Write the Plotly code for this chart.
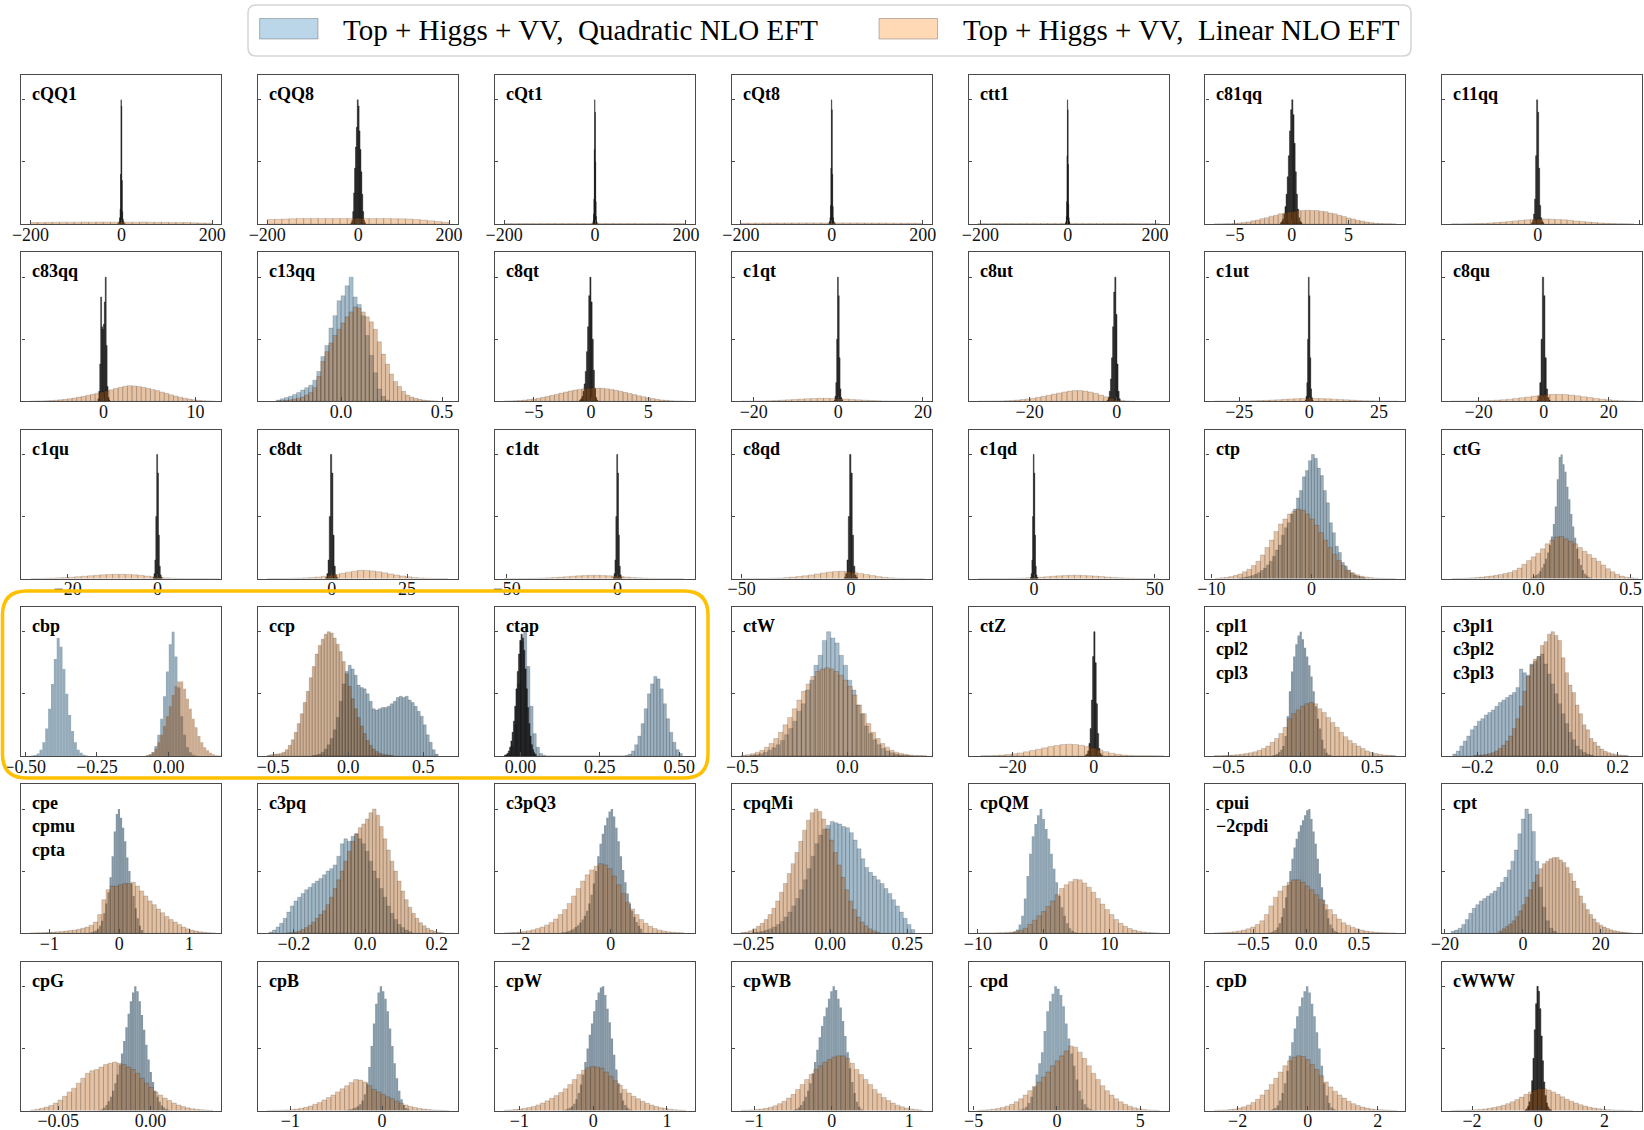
import plotly.graph_objects as go

# ---------------------------------------------------------------------------
# Data: every histogram is (first bin edge, bin width, bin heights)
# "quad" = Top + Higgs + VV, Quadratic NLO EFT ; "lin" = Linear NLO EFT
# ---------------------------------------------------------------------------
# row 1
cQQ1_quad = (-6, 1, [1, 2, 5, 12, 40, 100, 95, 35, 10, 4, 2, 1])
cQQ1_lin = (-200, 16, [1.2, 1.3, 1.4, 1.4, 1.5, 1.5, 1.5, 1.6, 1.5, 1.6, 1.6, 1.5, 1.6, 1.5, 1.5, 1.6, 1.5, 1.4, 1.4, 1.3, 1.3, 1.2, 1.0, 0.9, 0.7])
cQQ8_quad = (-16, 2, [1, 3, 10, 25, 45, 62, 78, 100, 95, 75, 60, 42, 24, 10, 3, 1])
cQQ8_lin = (-200, 16, [3.6, 3.8, 4.0, 4.3, 4.5, 4.4, 4.5, 4.5, 4.4, 4.4, 4.5, 4.5, 4.6, 4.5, 4.4, 4.5, 4.4, 4.3, 4.2, 4.0, 3.6, 3.2, 2.6, 2.0, 1.4])
cQt1_quad = (-4.8, 0.8, [1, 3, 8, 20, 60, 100, 90, 50, 18, 6, 2, 1])
cQt1_lin = (-200, 16, [0.3, 0.3, 0.4, 0.4, 0.4, 0.5, 0.5, 0.5, 0.5, 0.5, 0.5, 0.5, 0.6, 0.5, 0.5, 0.5, 0.5, 0.5, 0.4, 0.4, 0.4, 0.4, 0.3, 0.3, 0.3])
cQt8_quad = (-6, 1, [1, 2, 5, 15, 45, 100, 92, 40, 14, 5, 2, 1])
cQt8_lin = (-200, 16, [0.6, 0.7, 0.7, 0.8, 0.8, 0.8, 0.9, 0.9, 0.9, 0.9, 0.9, 0.9, 1.0, 0.9, 0.9, 0.9, 0.9, 0.8, 0.8, 0.8, 0.7, 0.7, 0.6, 0.6, 0.5])
ctt1_quad = (-4.8, 0.8, [1, 2, 6, 18, 55, 100, 92, 48, 16, 5, 2, 1])
ctt1_lin = (-206, 16, [0.3, 0.3, 0.4, 0.4, 0.4, 0.4, 0.5, 0.5, 0.5, 0.5, 0.5, 0.5, 0.5, 0.5, 0.5, 0.5, 0.5, 0.5, 0.4, 0.4, 0.4, 0.4, 0.4, 0.3, 0.3, 0.3])
c81qq_quad = (-1.0, 0.1, [1, 2, 4, 8, 14, 24, 38, 55, 75, 92, 100, 88, 65, 42, 24, 12, 5, 2, 1])
c81qq_lin = (-6.8, 0.4, [0.1, 0.1, 0.2, 0.3, 0.5, 0.8, 1.3, 1.7, 2.6, 3.2, 4.3, 5.1, 6.3, 7.1, 8.2, 8.8, 9.7, 10.1, 10.7, 10.8, 11.1, 10.9, 10.9, 10.3, 9.9, 8.9, 8.2, 7.0, 6.1, 4.9, 4.1, 3.0, 2.4, 1.6, 1.1, 0.7, 0.4, 0.3, 0.2, 0.1])
c11qq_quad = (-1.2, 0.2, [1, 3, 8, 20, 55, 100, 90, 45, 15, 5, 2, 1])
c11qq_lin = (-17, 1.2, [0.1, 0.1, 0.2, 0.3, 0.4, 0.6, 0.9, 1.2, 1.6, 2.0, 2.5, 3.0, 3.4, 3.7, 3.9, 4.0, 3.9, 3.7, 3.4, 3.0, 2.5, 2.1, 1.6, 1.2, 0.9, 0.6, 0.4, 0.3, 0.2, 0.1])
# row 2
c83qq_quad = (-0.6, 0.1, [2, 8, 30, 84, 60, 58, 62, 80, 100, 45, 12, 3, 1])
c83qq_lin = (-7.9, 0.5, [0.1, 0.2, 0.3, 0.4, 0.6, 0.9, 1.2, 1.6, 2.1, 2.7, 3.4, 4.1, 4.9, 5.7, 6.5, 7.4, 8.3, 9.3, 10.3, 11.3, 12.2, 12.6, 12.4, 12.0, 11.3, 10.5, 9.6, 8.6, 7.5, 6.4, 5.3, 4.3, 3.3, 2.5, 1.8, 1.2, 0.8, 0.5, 0.3, 0.1])
c13qq_quad = (-0.32, 0.02, [1, 2, 3, 4, 5.5, 7, 9, 11, 13, 17, 24, 36, 45, 59, 69, 81, 85, 93, 100, 84, 78, 69, 53, 37, 23, 10, 4, 1])
c13qq_lin = (-0.32, 0.02, [0.3, 0.5, 0.8, 1.2, 1.8, 2.5, 3.5, 5, 7, 11, 20, 32, 40, 47, 53, 58, 63, 68, 72, 76, 75, 72, 68, 64, 58, 48, 38, 30, 22, 16, 12, 8, 5, 3.5, 2.5, 1.6, 1, 0.6, 0.4, 0.2])
c8qt_quad = (-1.0, 0.1, [1, 2, 4, 8, 14, 24, 40, 60, 85, 100, 80, 50, 25, 10, 3, 1])
c8qt_lin = (-7.6, 0.4, [0.2, 0.3, 0.5, 0.7, 1.0, 1.4, 1.9, 2.5, 3.2, 4.0, 4.8, 5.7, 6.6, 7.5, 8.3, 9.0, 9.6, 10.1, 10.5, 10.7, 10.7, 10.5, 10.1, 9.6, 8.9, 8.1, 7.2, 6.3, 5.4, 4.5, 3.7, 2.9, 2.2, 1.6, 1.1, 0.8, 0.5, 0.3, 0.2, 0.1])
c1qt_quad = (-1.0, 0.2, [1, 4, 15, 50, 100, 85, 35, 10, 3, 1])
c1qt_lin = (-23, 1.5, [0.1, 0.1, 0.2, 0.3, 0.4, 0.6, 0.9, 1.2, 1.5, 1.8, 2.1, 2.3, 2.4, 2.4, 2.3, 2.1, 1.8, 1.5, 1.2, 0.9, 0.7, 0.5, 0.3, 0.2, 0.15, 0.1, 0.1, 0.05])
c8ut_quad = (-2.2, 0.25, [1, 3, 8, 18, 35, 60, 88, 100, 70, 30, 8, 2])
c8ut_lin = (-31.8, 1.2, [0.05, 0.1, 0.15, 0.2, 0.3, 0.5, 0.7, 1.0, 1.4, 1.9, 2.5, 3.2, 4.0, 4.9, 5.8, 6.7, 7.5, 8.2, 8.6, 8.6, 8.2, 7.5, 6.4, 5.0, 3.6, 2.3, 1.3, 0.6, 0.3, 0.1])
c1ut_quad = (-1.4, 0.28, [1, 4, 15, 50, 100, 85, 35, 10, 3, 1])
c1ut_lin = (-34, 2.2, [0.05, 0.08, 0.1, 0.15, 0.2, 0.3, 0.45, 0.6, 0.8, 1.05, 1.3, 1.6, 1.9, 2.15, 2.3, 2.4, 2.35, 2.2, 2.0, 1.75, 1.5, 1.2, 0.95, 0.7, 0.5, 0.35, 0.25, 0.15, 0.1, 0.05])
c8qu_quad = (-2.0, 0.4, [1, 4, 15, 50, 100, 85, 35, 10, 3, 1])
c8qu_lin = (-28.5, 1.9, [0.05, 0.08, 0.12, 0.2, 0.3, 0.45, 0.65, 0.95, 1.3, 1.75, 2.3, 2.9, 3.5, 4.2, 4.8, 5.3, 5.6, 5.6, 5.4, 5.0, 4.4, 3.7, 3.0, 2.3, 1.7, 1.2, 0.8, 0.5, 0.3, 0.15])
# row 3
c1qu_quad = (-1.0, 0.2, [1, 4, 15, 50, 100, 85, 35, 10, 3, 1])
c1qu_lin = (-28.2, 1.4, [0.1, 0.15, 0.25, 0.4, 0.6, 0.85, 1.15, 1.5, 1.9, 2.3, 2.7, 3.05, 3.3, 3.5, 3.5, 3.4, 3.1, 2.7, 2.1, 1.5, 1.0, 0.6, 0.35, 0.2, 0.12, 0.08, 0.05, 0.03, 0.02, 0.01])
c8dt_quad = (-2.0, 0.4, [1, 4, 15, 50, 100, 85, 35, 10, 3, 1])
c8dt_lin = (-21.4, 2.0, [0.03, 0.05, 0.1, 0.15, 0.25, 0.4, 0.6, 0.9, 1.3, 1.9, 2.6, 3.4, 4.3, 5.2, 6.0, 6.7, 6.6, 6.2, 5.5, 4.7, 3.8, 2.9, 2.1, 1.4, 0.9, 0.55, 0.3, 0.15, 0.08, 0.04])
c1dt_quad = (-2.0, 0.4, [1, 4, 15, 50, 100, 85, 35, 10, 3, 1])
c1dt_lin = (-51.2, 2.7, [0.03, 0.05, 0.08, 0.12, 0.2, 0.3, 0.45, 0.65, 0.9, 1.2, 1.55, 1.9, 2.25, 2.5, 2.7, 2.7, 2.55, 2.3, 2.0, 1.65, 1.3, 0.95, 0.65, 0.4, 0.25, 0.15, 0.08, 0.05, 0.03, 0.02])
c8qd_quad = (-3.0, 0.6, [1, 4, 15, 50, 100, 85, 35, 10, 3, 1])
c8qd_lin = (-50.3, 2.8, [0.02, 0.04, 0.07, 0.1, 0.18, 0.3, 0.5, 0.8, 1.2, 1.7, 2.3, 3.0, 3.8, 4.6, 5.3, 5.8, 5.9, 5.6, 5.0, 4.2, 3.3, 2.4, 1.6, 1.0, 0.6, 0.35, 0.2, 0.1, 0.05, 0.03])
c1qd_quad = (-1.5, 0.3, [1, 4, 15, 50, 100, 85, 35, 10, 3, 1])
c1qd_lin = (-23.3, 2.5, [0.02, 0.03, 0.05, 0.08, 0.12, 0.2, 0.3, 0.45, 0.65, 0.9, 1.2, 1.55, 1.9, 2.25, 2.5, 2.7, 2.7, 2.55, 2.3, 2.0, 1.65, 1.3, 0.95, 0.65, 0.4, 0.25, 0.15, 0.08, 0.05, 0.03])
ctp_quad = (-7.2, 0.3, [0.5, 0.8, 1.2, 1.8, 2.5, 3.5, 4.8, 6.5, 8.5, 11, 14, 18, 23, 27, 35, 41, 45, 52, 56, 65, 71, 82, 87, 95, 100, 97, 89, 83, 71, 61, 45, 37, 26, 21, 13, 10, 6.5, 4.5, 3, 2, 1.2, 0.7])
ctp_lin = (-9.6, 0.45, [0.3, 0.6, 1.0, 1.6, 2.5, 3.8, 5.5, 7.5, 10.5, 14, 19, 25, 31, 38, 44, 48, 52, 54, 56, 55, 52, 48, 43, 37, 31, 25, 19.5, 14.5, 10.5, 7, 4.8, 3.2, 2, 1.3, 0.8, 0.5, 0.3, 0.2, 0.1, 0.05])
ctG_quad = (-0.02, 0.01, [0.5, 1, 1.8, 2.8, 4, 6, 9, 12, 16, 21, 27, 34, 44, 58, 80, 98, 100, 92, 86, 74, 64, 52, 42, 33, 24, 16, 11, 7, 4, 2.5, 1.3, 0.6])
ctG_lin = (-0.42, 0.024, [0.1, 0.2, 0.3, 0.4, 0.6, 0.9, 1.2, 1.6, 2.1, 2.7, 3.4, 4.2, 5, 6.5, 8.5, 11.5, 14.5, 17.5, 20.5, 24, 28, 31, 33.5, 34, 32, 30, 28, 25, 22, 19.5, 16.5, 14, 11, 8, 5.5, 3.5, 2, 1.1, 0.6, 0.3])
# row 4
cbp_quad = (-0.48, 0.01, [0.3, 0.8, 2, 5, 11, 22, 38, 58, 78, 95, 88, 70, 50, 33, 20, 11, 5, 2.5, 1, 0.4,
                          0, 0, 0, 0, 0, 0, 0, 0, 0, 0, 0, 0, 0, 0, 0, 0, 0, 0, 0, 0,
                          0.3, 1, 3, 8, 17, 30, 48, 68, 90, 100, 80, 55, 32, 17, 7, 3, 1, 0.3])
cbp_lin = (-0.08, 0.01, [0.5, 1.5, 3, 6, 11, 17, 24, 32, 40, 49, 56, 60, 60, 54, 46, 38, 30, 23, 16, 11, 7, 4.5, 2.5, 1.3, 0.6, 0.3])
ccp_quad = (-0.24, 0.02, [0.3, 0.8, 1.5, 3, 5.5, 9, 14, 21, 31, 44, 58, 68, 73, 70, 65, 57, 55, 54, 50, 44, 38, 37, 38, 39, 39, 40, 42, 44, 47, 48, 47, 48, 45, 43, 40, 36, 32, 25, 17, 11, 5, 1.5])
ccp_lin = (-0.54, 0.02, [0.5, 1, 1.3, 1.6, 2, 3, 5, 8.5, 13, 19, 26, 34, 43, 52, 63, 72, 82, 89, 94, 98, 100, 99, 95, 90, 84, 76, 66, 56, 46, 38, 31, 24, 18, 12.5, 8.5, 5.5, 3.5, 2.2, 1.4, 0.9, 0.6, 0.3])
ctap_quad = (-0.05, 0.01, [0.5, 2, 8, 25, 58, 92, 100, 72, 40, 18, 7, 2, 0.5,
                           0, 0, 0, 0, 0, 0, 0, 0, 0, 0, 0, 0, 0, 0, 0, 0, 0, 0, 0, 0, 0, 0, 0, 0, 0,
                           0.5, 1.5, 4, 9, 16, 26, 38, 50, 58, 64, 62, 54, 42, 30, 19, 11, 5, 2])
ctap_lin = (-0.05, 0.004, [0.5, 1, 2, 4, 7, 12, 19, 28, 40, 54, 68, 82, 93, 98, 95, 85, 70, 54, 39, 26, 16, 9, 5, 2.5, 1])
ctW_quad = (-0.46, 0.02, [0.5, 1, 1.8, 3, 4.5, 6.5, 9, 12.5, 17, 22, 28, 36, 42, 53, 61, 73, 81, 93, 100, 95, 91, 81, 73, 61, 53, 41, 34, 24, 18, 13, 9, 6, 4, 2.5, 1.5, 0.8, 0.4, 0.2])
ctW_lin = (-0.505, 0.022, [0.5, 1, 1.8, 3, 4.5, 7, 10, 14, 19, 25, 31, 38, 45, 52, 58, 64, 68, 70, 71, 70, 68, 65, 61, 56, 49, 41, 34, 26, 19, 14, 10, 7, 4.5, 3, 2, 1.3, 0.8, 0.5, 0.3, 0.2])
ctZ_quad = (-2.1, 0.3, [0.5, 1.5, 4, 10, 22, 45, 80, 100, 75, 42, 18, 6, 2, 0.5])
ctZ_lin = (-27.8, 1.5, [0.1, 0.2, 0.4, 0.7, 1.1, 1.7, 2.4, 3.3, 4.3, 5.4, 6.5, 7.5, 8.4, 9.1, 9.4, 9.2, 8.6, 7.5, 6.2, 4.8, 3.4, 2.2, 1.3, 0.7, 0.4, 0.2, 0.1, 0.05, 0.03, 0.02])
cpl_quad = (-0.2, 0.015, [0.3, 0.8, 1.5, 3, 5, 8, 16, 32, 52, 68, 80, 90, 97, 100, 94, 87, 80, 73, 64, 52, 40, 30, 22, 13, 6, 2.5, 1, 0.3])
cpl_lin = (-0.6, 0.03, [0.1, 0.2, 0.3, 0.5, 0.7, 1, 1.4, 1.9, 2.5, 3.3, 4.5, 6, 8, 11, 14, 18, 23, 30, 34, 37, 40, 42, 43, 42, 38, 35, 31, 27, 23, 19, 15.5, 12.5, 10, 8, 6, 4, 2.8, 1.9, 1.2, 0.8, 0.5, 0.3])
c3pl_quad = (-0.27, 0.01, [1.5, 4, 8, 12, 16, 21, 24, 28, 30, 33, 35, 37, 40, 43, 45, 47, 49, 51, 55, 70, 67, 65, 74, 76, 80, 82, 74, 66, 58, 50, 42, 34, 26, 19, 13, 8, 5, 3, 1.5, 0.7])
c3pl_lin = (-0.21, 0.01, [0.3, 0.5, 0.8, 1.2, 1.8, 2.6, 4, 6, 8.5, 12, 16, 22, 30, 40, 52, 64, 73, 78, 80, 89, 92, 98, 100, 97, 93, 79, 67, 57, 51, 41, 34, 25, 21, 14, 11, 8, 5.5, 3.8, 2.6, 1.8, 1.2, 0.8, 0.5, 0.3])
# row 5
cpe_quad = (-0.44, 0.03, [0.3, 0.7, 1.3, 2.2, 3.5, 6, 10, 16, 24, 33, 45, 62, 82, 96, 100, 93, 85, 74, 61, 50, 40, 30, 20, 12, 6, 2.5])
cpe_lin = (-1.27, 0.06, [0.2, 0.3, 0.4, 0.5, 0.7, 0.9, 1.1, 1.4, 1.7, 2.1, 2.6, 3.2, 4, 5, 6.5, 9, 15, 27, 35, 38, 38, 39, 40, 40, 41, 38, 34, 30, 26, 23, 19.5, 16.5, 13.5, 11, 9, 7, 5, 3.5, 2.5, 1.7, 1.1, 0.7, 0.4, 0.2])
c3pq_quad = (-0.27, 0.01, [1, 2.5, 5, 8, 12, 17, 22, 26, 29, 32, 35, 37, 40, 42, 44, 47, 50, 52, 55, 62, 72, 76, 74, 78, 80, 76, 72, 66, 58, 50, 44, 36, 29, 22, 16, 11, 7, 4.5, 2.5, 1.2])
c3pq_lin = (-0.22, 0.01, [0.3, 0.6, 1, 1.8, 3, 4.5, 6.5, 9, 12, 15, 18, 23, 29, 36, 43, 50, 58, 66, 74, 80, 85, 88, 92, 97, 100, 95, 86, 76, 67, 58, 50, 42, 34, 27, 21, 16, 12, 8.5, 6, 4, 2.5, 1.5, 0.8, 0.4])
c3pQ3_quad = (-1.1, 0.05, [0.5, 0.8, 1.2, 1.8, 2.5, 3.5, 5, 6.5, 8.5, 11, 14, 18, 24, 31, 40, 50, 62, 72, 80, 87, 93, 98, 100, 94, 85, 74, 62, 51, 41, 32, 24, 18, 13, 9, 6, 3.5])
c3pQ3_lin = (-2.37, 0.1, [0.2, 0.4, 0.6, 0.9, 1.3, 1.9, 2.7, 3.7, 5, 6.7, 8.7, 11.5, 15, 19, 24, 30, 36, 42, 47, 51, 54, 56, 55, 52, 46, 39, 32, 25, 19.5, 15, 11, 8, 5.5, 3.8, 2.6, 1.8, 1.2, 0.8, 0.5, 0.3])
cpqMi_quad = (-0.25, 0.0125, [0.5, 1, 1.5, 2.5, 3.5, 5, 7, 9.5, 13, 17, 22, 28, 35, 43, 52, 62, 72, 79, 84, 87, 90, 89, 88, 86, 85, 81, 75, 68, 60, 53, 49, 46, 43, 40, 36, 32, 27, 22, 17, 12, 7, 3])
cpqMi_lin = (-0.29, 0.0125, [0.5, 1, 2, 3.5, 5.5, 8, 11, 15, 20, 26, 33, 40, 48, 56, 65, 74, 83, 91, 97, 100, 98, 92, 84, 75, 65, 55, 45, 35, 26, 19, 13, 9, 6, 3.5, 2, 1])
cpQM_quad = (-5, 0.4, [0.5, 1.2, 3, 7, 14, 28, 46, 64, 78, 88, 95, 100, 92, 84, 76, 64, 52, 41, 30, 21, 14, 8, 4, 2, 0.8])
cpQM_lin = (-10, 0.69, [0.05, 0.1, 0.15, 0.2, 0.3, 0.45, 0.7, 1, 1.5, 2.3, 4, 7, 10.5, 14, 17.5, 21.5, 26, 31, 36, 39, 41.5, 43.5, 43, 40.5, 37, 33, 28, 23.5, 19, 15, 11, 8, 5.5, 3.8, 2.5, 1.6, 1, 0.6, 0.3, 0.15])
cpui_quad = (-0.36, 0.02, [0.3, 0.7, 1.3, 2.5, 4.5, 8, 13, 20, 29, 39, 50, 60, 69, 76, 82, 87, 91, 95, 99, 100, 92, 82, 72, 60, 48, 37, 27, 19, 12, 7, 4, 2, 1, 0.4])
cpui_lin = (-0.87, 0.043, [0.2, 0.3, 0.5, 0.8, 1.2, 1.8, 2.6, 3.6, 5, 7, 10, 15, 22, 29, 34, 38, 41, 43, 43, 41, 38, 35, 31, 27, 23, 19, 15, 11.5, 8.5, 6.5, 4.8, 3.5, 2.5, 1.8, 1.2, 0.8, 0.5, 0.3, 0.2, 0.1])
cpt_quad = (-18.4, 0.9, [1.5, 2.5, 4, 7, 11, 16, 20, 23, 26, 28, 30, 32, 34, 37, 41, 45, 51, 58, 67, 80, 92, 100, 96, 82, 58, 37, 21, 10, 4, 1.5])
cpt_lin = (-6.2, 0.86, [1.5, 3.5, 5.5, 7.5, 10, 13.5, 18, 23, 29, 35, 41, 47, 52, 56, 58, 60, 61, 61, 59, 57, 53, 48, 42, 36, 30, 24, 19, 15, 11.5, 8.5, 6.5, 5, 3.8, 2.8, 2, 1.5, 1, 0.7, 0.4, 0.2])
# row 6
cpG_quad = (-0.028, 0.0012, [0.5, 1, 2.5, 4.5, 7.5, 11, 16, 22, 29, 37, 46, 56, 67, 78, 88, 95, 100, 96, 88, 77, 65, 53, 41, 31, 23, 16, 11, 7, 4, 2.5, 1.3, 0.6])
cpG_lin = (-0.065, 0.00247, [0.5, 1, 1.8, 2.8, 4, 6, 8.5, 11.5, 15, 18, 22, 26, 30, 32, 33, 35, 37, 38, 39, 38, 37, 35, 33, 30, 26, 22, 18.5, 15, 12.5, 10, 8, 6, 4.5, 3.2, 2.2, 1.5, 1, 0.6, 0.4, 0.2])
cpB_quad = (-0.4, 0.025, [0.3, 0.6, 1, 1.6, 2.5, 3.5, 5, 8, 13, 22, 35, 52, 70, 86, 95, 100, 96, 90, 80, 66, 52, 38, 26, 16, 9, 4.5, 2, 0.8])
cpB_lin = (-1.25, 0.0495, [0.1, 0.15, 0.2, 0.3, 0.5, 0.8, 1.2, 1.8, 2.6, 3.6, 5, 6.5, 8.5, 10.5, 12.5, 15, 17.5, 20, 22.5, 25, 24.5, 23, 20, 17, 15, 13, 11, 9.5, 7.5, 6, 4.5, 3.3, 2.4, 1.7, 1.2, 0.8, 0.5, 0.3, 0.2, 0.1])
cpW_quad = (-0.42, 0.03, [0.3, 0.7, 1.3, 2.2, 3.5, 5.5, 9, 14, 21, 29, 39, 50, 61, 70, 80, 89, 95, 99, 100, 93, 82, 71, 58, 45, 33, 22, 14, 8, 4.5, 2.2, 1, 0.4])
cpW_lin = (-1.207, 0.0616, [0.3, 0.5, 0.8, 1.2, 1.7, 2.4, 3.3, 4.5, 6, 7.8, 9.8, 12, 14.5, 17.5, 21, 25, 29, 32.5, 34.5, 35.5, 35, 34, 31, 27.5, 24, 20.5, 17, 14, 11.5, 9.5, 7.5, 5.8, 4.4, 3.2, 2.3, 1.6, 1.1, 0.7, 0.4, 0.2])
cpWB_quad = (-0.5, 0.03, [0.5, 1.2, 2.5, 4.5, 7.5, 11, 16, 22, 30, 39, 49, 59, 68, 76, 83, 90, 96, 100, 97, 90, 83, 72, 60, 47, 34, 23, 14, 7, 3, 1])
cpWB_lin = (-1.17, 0.0585, [0.2, 0.3, 0.5, 0.8, 1.2, 1.8, 2.6, 3.8, 5.5, 7.5, 10, 13, 17, 21, 25, 29, 33, 36, 39, 41, 43, 44, 44, 42, 38, 33, 29, 25, 21, 17, 13.5, 10.5, 8, 6, 4.3, 3, 2, 1.3, 0.8, 0.4])
cpd_quad = (-2.4, 0.16, [0.3, 0.7, 1.5, 3, 6, 11, 19, 29, 38, 47, 64, 80, 88, 94, 100, 98, 93, 84, 70, 58, 46, 36, 25, 16, 9, 5, 2.5, 1.2, 0.5, 0.2])
cpd_lin = (-4.75, 0.2725, [0.2, 0.4, 0.7, 1.1, 1.7, 2.5, 3.5, 5, 7, 9.5, 12.5, 16, 19.5, 23, 27, 31, 36, 40, 44, 48, 52, 51, 47, 42, 36, 30, 25, 20, 16, 12.5, 9.5, 7, 5, 3.5, 2.3, 1.5, 0.9, 0.5, 0.3, 0.15])
cpD_quad = (-1.1, 0.07, [0.5, 1, 2, 4, 8, 14, 22, 32, 44, 55, 66, 76, 84, 91, 96, 100, 95, 86, 76, 63, 50, 36, 22, 12, 6, 2.5, 1, 0.4])
cpD_lin = (-2.66, 0.13, [0.2, 0.3, 0.5, 0.8, 1.3, 2, 3, 4.5, 6.5, 9, 12.5, 16.5, 21, 26, 31, 36, 40, 43, 44, 43.5, 41, 37, 33, 28, 23, 19, 15.5, 12.5, 10, 7.5, 5.5, 4, 2.8, 2, 1.3, 0.9, 0.6, 0.4, 0.2, 0.1])
cWWW_quad = (-0.4, 0.04, [0.5, 1.5, 3.5, 7, 13, 24, 42, 65, 86, 100, 96, 82, 60, 40, 23, 12, 6, 3, 1.2, 0.5])
cWWW_lin = (-2.625, 0.137, [0.1, 0.15, 0.2, 0.3, 0.4, 0.6, 0.9, 1.3, 1.8, 2.4, 3.2, 4.2, 5.5, 7, 8.8, 10.8, 13, 15, 16.5, 17.5, 17.5, 16.5, 15, 13, 11, 9, 7.5, 6, 4.7, 3.6, 2.7, 2, 1.4, 1, 0.7, 0.5, 0.3, 0.2, 0.1, 0.05])

LABELS = [
    ["cQQ1"], ["cQQ8"], ["cQt1"], ["cQt8"], ["ctt1"], ["c81qq"], ["c11qq"],
    ["c83qq"], ["c13qq"], ["c8qt"], ["c1qt"], ["c8ut"], ["c1ut"], ["c8qu"],
    ["c1qu"], ["c8dt"], ["c1dt"], ["c8qd"], ["c1qd"], ["ctp"], ["ctG"],
    ["cbp"], ["ccp"], ["ctap"], ["ctW"], ["ctZ"], ["cpl1", "cpl2", "cpl3"], ["c3pl1", "c3pl2", "c3pl3"],
    ["cpe", "cpmu", "cpta"], ["c3pq"], ["c3pQ3"], ["cpqMi"], ["cpQM"], ["cpui", "\u22122cpdi"], ["cpt"],
    ["cpG"], ["cpB"], ["cpW"], ["cpWB"], ["cpd"], ["cpD"], ["cWWW"],
]
QUADRATIC = [
    cQQ1_quad, cQQ8_quad, cQt1_quad, cQt8_quad, ctt1_quad, c81qq_quad, c11qq_quad,
    c83qq_quad, c13qq_quad, c8qt_quad, c1qt_quad, c8ut_quad, c1ut_quad, c8qu_quad,
    c1qu_quad, c8dt_quad, c1dt_quad, c8qd_quad, c1qd_quad, ctp_quad, ctG_quad,
    cbp_quad, ccp_quad, ctap_quad, ctW_quad, ctZ_quad, cpl_quad, c3pl_quad,
    cpe_quad, c3pq_quad, c3pQ3_quad, cpqMi_quad, cpQM_quad, cpui_quad, cpt_quad,
    cpG_quad, cpB_quad, cpW_quad, cpWB_quad, cpd_quad, cpD_quad, cWWW_quad,
]
LINEAR = [
    cQQ1_lin, cQQ8_lin, cQt1_lin, cQt8_lin, ctt1_lin, c81qq_lin, c11qq_lin,
    c83qq_lin, c13qq_lin, c8qt_lin, c1qt_lin, c8ut_lin, c1ut_lin, c8qu_lin,
    c1qu_lin, c8dt_lin, c1dt_lin, c8qd_lin, c1qd_lin, ctp_lin, ctG_lin,
    cbp_lin, ccp_lin, ctap_lin, ctW_lin, ctZ_lin, cpl_lin, c3pl_lin,
    cpe_lin, c3pq_lin, c3pQ3_lin, cpqMi_lin, cpQM_lin, cpui_lin, cpt_lin,
    cpG_lin, cpB_lin, cpW_lin, cpWB_lin, cpd_lin, cpD_lin, cWWW_lin,
]
X_LIMITS = [
    (-220, 220), (-220, 220), (-220, 220), (-220, 220), (-227, 231), (-7.6, 10.0), (-18.8, 20.6),
    (-8.9, 12.8), (-0.41, 0.58), (-8.4, 9.1), (-25.2, 22.1), (-34, 11.9), (-37.1, 34.4), (-31.2, 30.3),
    (-30.3, 14.2), (-24.4, 42), (-55.3, 34.9), (-54.5, 37), (-27.1, 55.7), (-10.6, 9.4), (-0.47, 0.56),
    (-0.513, 0.183), (-0.6, 0.733), (-0.08, 0.55), (-0.55, 0.4), (-30.8, 18.4), (-0.66, 0.73), (-0.3, 0.27),
    (-1.4, 1.46), (-0.3, 0.26), (-2.57, 1.87), (-0.32, 0.33), (-11.4, 19), (-0.955, 0.94), (-20.7, 30.6),
    (-0.07, 0.0385), (-1.35, 0.83), (-1.33, 1.38), (-1.29, 1.29), (-5.3, 6.7), (-2.92, 2.79), (-2.9, 3.14),
]
TICK_VALUES = [
    [-200, 0, 200], [-200, 0, 200], [-200, 0, 200], [-200, 0, 200], [-200, 0, 200], [-5, 0, 5], [0, 20],
    [0, 10], [0, 0.5], [-5, 0, 5], [-20, 0, 20], [-20, 0], [-25, 0, 25], [-20, 0, 20],
    [-20, 0], [0, 25], [-50, 0], [-50, 0], [0, 50], [-10, 0], [0, 0.5],
    [-0.5, -0.25, 0], [-0.5, 0, 0.5], [0, 0.25, 0.5], [-0.5, 0], [-20, 0], [-0.5, 0, 0.5], [-0.2, 0, 0.2],
    [-1, 0, 1], [-0.2, 0, 0.2], [-2, 0], [-0.25, 0, 0.25], [-10, 0, 10], [-0.5, 0, 0.5], [-20, 0, 20],
    [-0.05, 0], [-1, 0], [-1, 0, 1], [-1, 0, 1], [-5, 0, 5], [-2, 0, 2], [-2, 0, 2],
]
M = "\u2212"
TICK_LABELS = [
    [M + "200", "0", "200"], [M + "200", "0", "200"], [M + "200", "0", "200"], [M + "200", "0", "200"], [M + "200", "0", "200"], [M + "5", "0", "5"], ["0", "20"],
    ["0", "10"], ["0.0", "0.5"], [M + "5", "0", "5"], [M + "20", "0", "20"], [M + "20", "0"], [M + "25", "0", "25"], [M + "20", "0", "20"],
    [M + "20", "0"], ["0", "25"], [M + "50", "0"], [M + "50", "0"], ["0", "50"], [M + "10", "0"], ["0.0", "0.5"],
    [M + "0.50", M + "0.25", "0.00"], [M + "0.5", "0.0", "0.5"], ["0.00", "0.25", "0.50"], [M + "0.5", "0.0"], [M + "20", "0"], [M + "0.5", "0.0", "0.5"], [M + "0.2", "0.0", "0.2"],
    [M + "1", "0", "1"], [M + "0.2", "0.0", "0.2"], [M + "2", "0"], [M + "0.25", "0.00", "0.25"], [M + "10", "0", "10"], [M + "0.5", "0.0", "0.5"], [M + "20", "0", "20"],
    [M + "0.05", "0.00"], [M + "1", "0"], [M + "1", "0", "1"], [M + "1", "0", "1"], [M + "5", "0", "5"], [M + "2", "0", "2"], [M + "2", "0", "2"],
]
LEGEND_NAMES = ["Top + Higgs + VV,  Quadratic NLO EFT", "Top + Higgs + VV,  Linear NLO EFT"]

# ---------------------------------------------------------------------------
# Styling / layout
# ---------------------------------------------------------------------------
W, H = 1644, 1130
PANEL_W, PANEL_H = 200, 149
X0, Y0 = 21.4, 75
DX, DY = 236.8, 177.3
BLUE_RGB = (31, 119, 180)
ORANGE_RGB = (255, 127, 14)
BLUE_FILL = "rgba(31,119,180,0.3)"
ORANGE_FILL = "rgba(255,127,14,0.3)"
DENSE = "rgba(22,22,22,0.88)"
SERIF = "Liberation Serif, Times New Roman, serif"
AXIS_COLOR = "#4a4a4a"


def bar_style(rgb, px):
    """Emulate semi-transparent bars with dark edges: narrower bins look darker."""
    if px < 1.4:
        return DENSE, dict(color=DENSE, width=0.5)
    a1 = 0.3
    a2 = 0.3 * min(1.0, (2.2 / px) ** 1.5)
    alpha = 1 - (1 - a1) * (1 - a2)
    col = [v * a1 * (1 - a2) / alpha for v in rgb]
    fill = f"rgba({col[0]:.0f},{col[1]:.0f},{col[2]:.0f},{alpha:.3f})"
    if px >= 3:
        line = dict(color="rgba(0,0,0,0.25)", width=0.6)
    else:
        line = dict(color="rgba(0,0,0,0)", width=0)
    return fill, line


fig = go.Figure()
layout_axes = {}
annotations = []

for i, label in enumerate(LABELS):
    r, c = divmod(i, 7)
    n = i + 1
    xref = "x" if n == 1 else f"x{n}"
    yref = "y" if n == 1 else f"y{n}"
    xl = X_LIMITS[i]
    left = X0 + c * DX
    top = Y0 + r * DY
    peak = 0
    for (start, width, counts), rgb in ((QUADRATIC[i], BLUE_RGB), (LINEAR[i], ORANGE_RGB)):
        centers = [start + width * (k + 0.5) for k in range(len(counts))]
        px = width / (xl[1] - xl[0]) * PANEL_W
        fill, line = bar_style(rgb, px)
        fig.add_trace(go.Bar(
            x=centers, y=counts, width=width, xaxis=xref, yaxis=yref,
            marker=dict(color=fill, line=line),
            showlegend=False, hoverinfo="skip"))
        peak = max(peak, max(counts))
    layout_axes["xaxis" + ("" if n == 1 else str(n))] = dict(
        domain=[left / W, (left + PANEL_W) / W], range=list(xl), anchor=yref, automargin=False,
        tickmode="array", tickvals=TICK_VALUES[i], ticktext=TICK_LABELS[i],
        ticks="inside", ticklen=4, tickwidth=1, tickcolor=AXIS_COLOR, ticklabelstandoff=-6,
        showline=True, linecolor=AXIS_COLOR, linewidth=1.3, mirror=True,
        showgrid=False, zeroline=False,
        tickfont=dict(family=SERIF, size=18, color="#111"))
    layout_axes["yaxis" + ("" if n == 1 else str(n))] = dict(
        domain=[1 - (top + PANEL_H) / H, 1 - top / H], range=[0, 1.2 * peak], anchor=xref, automargin=False,
        ticks="inside", ticklen=3, tickwidth=1, tickcolor=AXIS_COLOR, nticks=3,
        showticklabels=False, showline=True, linecolor=AXIS_COLOR, linewidth=1.3, mirror=True,
        showgrid=False, zeroline=False)
    annotations.append(dict(
        xref="paper", yref="paper", x=(left + 9) / W, y=1 - (top + 7) / H,
        xanchor="left", yanchor="top", align="left", showarrow=False,
        text="<br>".join(f"<b>{t}</b>" for t in label),
        font=dict(family=SERIF, size=18, color="#000")))


def px_x(v):
    return v / W


def px_y(v):
    return 1 - v / H


def rounded_rect(x0, y0, x1, y1, rad):
    X, Y = px_x, px_y
    return (f"M{X(x0 + rad)},{Y(y0)} L{X(x1 - rad)},{Y(y0)} Q{X(x1)},{Y(y0)} {X(x1)},{Y(y0 + rad)} "
            f"L{X(x1)},{Y(y1 - rad)} Q{X(x1)},{Y(y1)} {X(x1 - rad)},{Y(y1)} "
            f"L{X(x0 + rad)},{Y(y1)} Q{X(x0)},{Y(y1)} {X(x0)},{Y(y1 - rad)} "
            f"L{X(x0)},{Y(y0 + rad)} Q{X(x0)},{Y(y0)} {X(x0 + rad)},{Y(y0)} Z")


shapes = [
    dict(type="path", xref="paper", yref="paper", path=rounded_rect(248, 5, 1411, 56, 8),
         line=dict(color="#d5d5d5", width=1.5), fillcolor="white", layer="above"),
    dict(type="rect", xref="paper", yref="paper", x0=px_x(259.6), x1=px_x(318), y0=px_y(39), y1=px_y(18.5),
         fillcolor=BLUE_FILL, line=dict(color="rgba(0,0,0,0.25)", width=1), layer="above"),
    dict(type="rect", xref="paper", yref="paper", x0=px_x(879), x1=px_x(937.5), y0=px_y(39), y1=px_y(18.5),
         fillcolor=ORANGE_FILL, line=dict(color="rgba(0,0,0,0.25)", width=1), layer="above"),
    dict(type="path", xref="paper", yref="paper", path=rounded_rect(2.5, 591, 708, 778, 24),
         line=dict(color="#FFC000", width=3.5), layer="above"),
]
annotations.append(dict(xref="paper", yref="paper", x=px_x(341), y=px_y(29.5), xanchor="left", yanchor="middle",
                        showarrow=False, text=LEGEND_NAMES[0], font=dict(family=SERIF, size=29, color="#000")))
annotations.append(dict(xref="paper", yref="paper", x=px_x(961), y=px_y(29.5), xanchor="left", yanchor="middle",
                        showarrow=False, text=LEGEND_NAMES[1], font=dict(family=SERIF, size=29, color="#000")))

fig.update_layout(
    width=W, height=H, margin=dict(l=0, r=0, t=0, b=0, autoexpand=False),
    paper_bgcolor="white", plot_bgcolor="white",
    barmode="overlay", bargap=0.1, showlegend=False,
    annotations=annotations, shapes=shapes,
    **layout_axes)

fig.write_html("out.html")
